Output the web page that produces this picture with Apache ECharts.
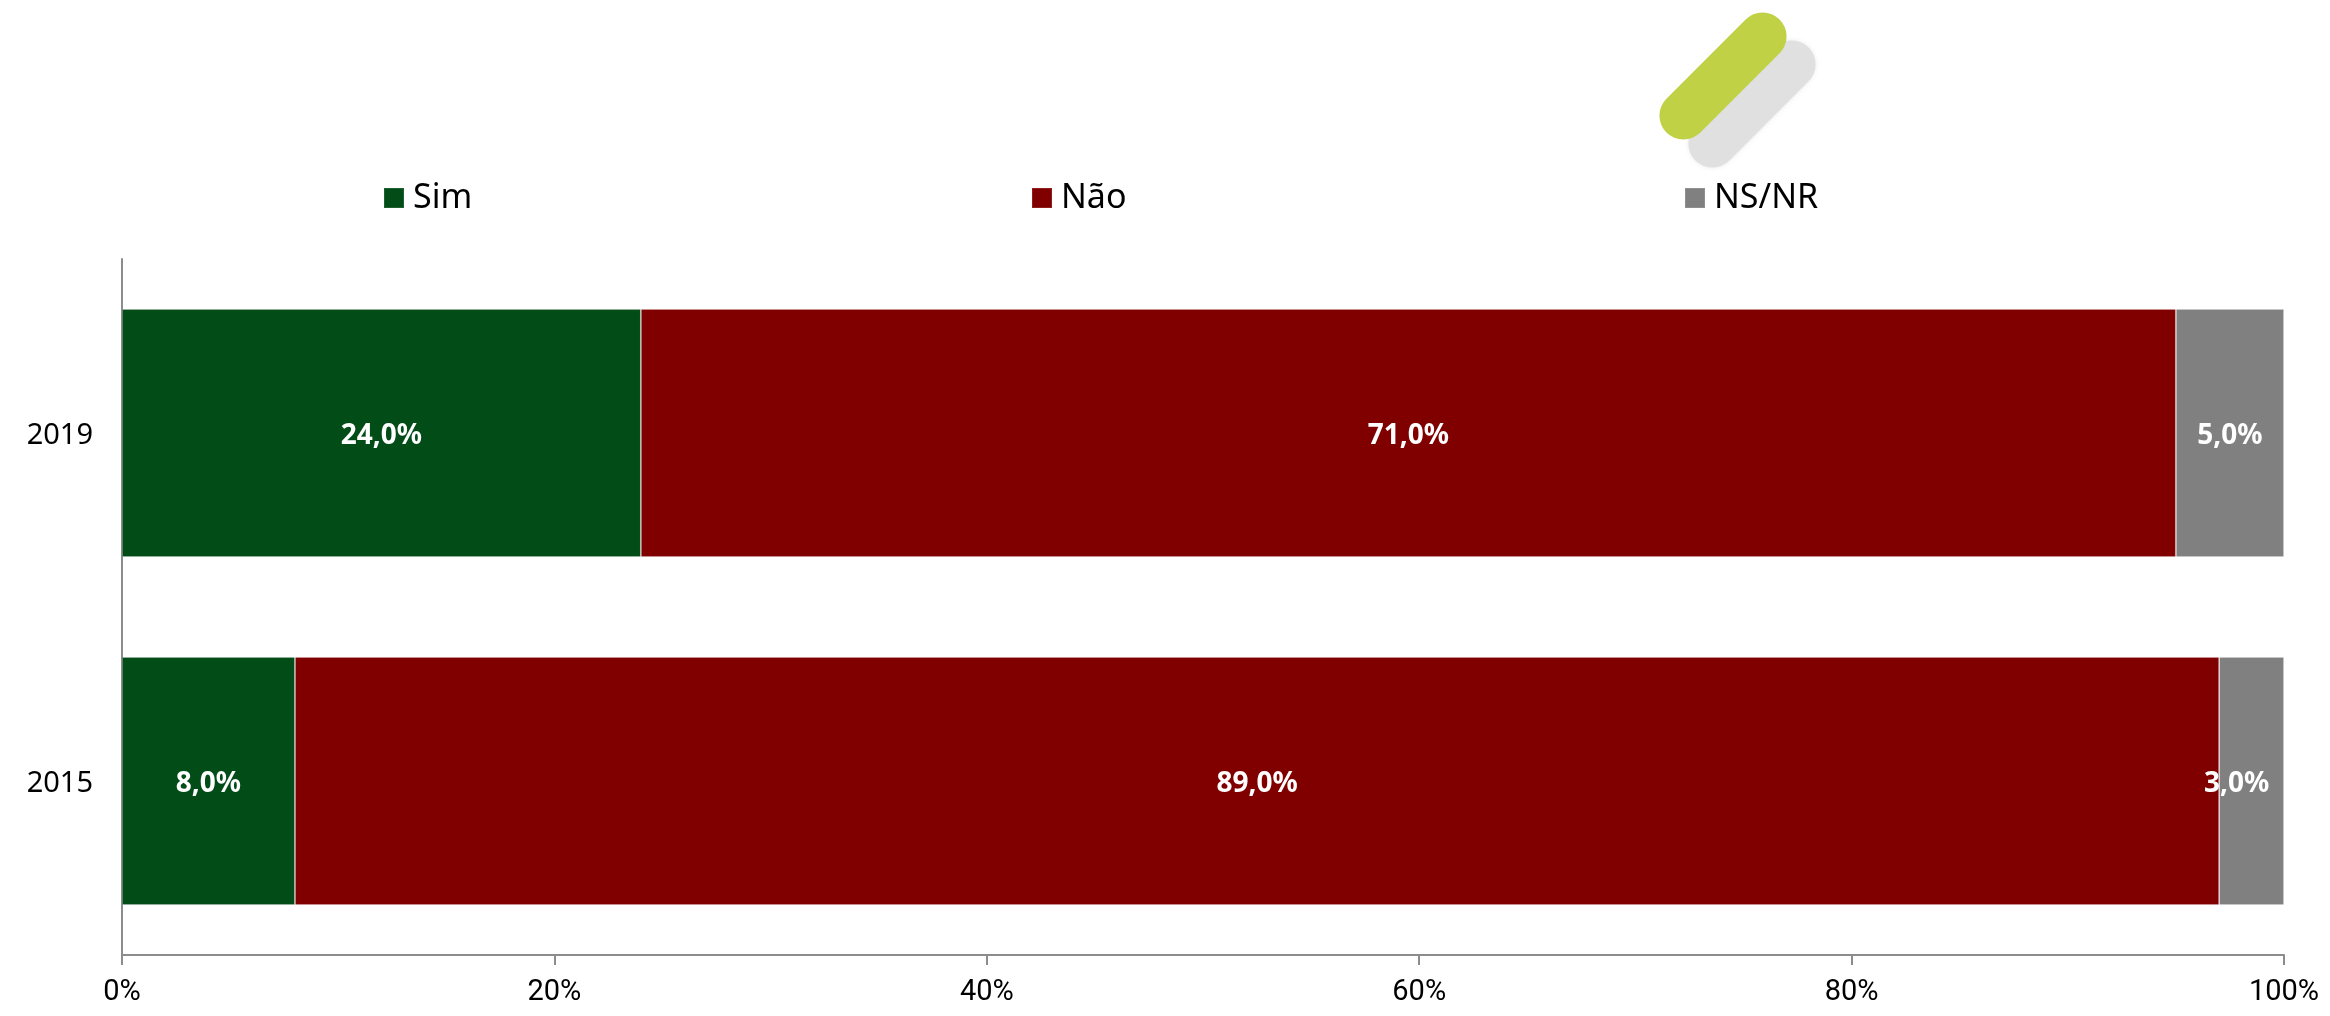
<!DOCTYPE html>
<html><head><meta charset="utf-8">
<style>html,body{margin:0;padding:0;background:#fff}#c{width:2330px;height:1016px}</style>
<script src="https://cdn.jsdelivr.net/npm/echarts@6/dist/echarts.min.js"></script>
</head><body><div id="c"></div>
<script>
const categories = ['2015', '2019'];
const sim = [8, 24];
const nao = [89, 71];
const nsnr = [3, 5];
const xTicks = [0, 20, 40, 60, 80, 100];
const colors = { sim: '#024c18', nao: '#800000', nsnr: '#808080' };
const FONT = '"Noto Sans"';
const fmt = v => v.toFixed(1).replace('.', ',') + '%';
const chart = echarts.init(document.getElementById('c'), null, { renderer: 'canvas' });
const lbl = { show: true, position: 'inside', offset: [0, 3], color: '#fff', fontFamily: FONT, fontWeight: 'bold', fontSize: 28, formatter: p => fmt(p.value) };
const edge = { borderColor: 'rgba(255,255,255,0.12)', borderWidth: 1 };
const leg = (name, left) => ({
  data: [name], left, top: 176, orient: 'horizontal', itemWidth: 20, itemHeight: 20,
  icon: 'rect', textStyle: { fontFamily: FONT, fontSize: 34, color: '#000', padding: [6, 0, 0, 4] }
});
chart.setOption({
  animation: false,
  backgroundColor: '#fff',
  graphic: [
    { type: 'rect', rotation: Math.PI / 4, x: 1752, y: 104, originX: 0, originY: 0,
      shape: { x: -80, y: -24, width: 160, height: 48, r: 24 },
      style: { fill: '#e0e0e0', shadowBlur: 4, shadowColor: 'rgba(224,224,224,0.7)' }, silent: true, z: 1 },
    { type: 'rect', rotation: Math.PI / 4, x: 1723, y: 76, originX: 0, originY: 0,
      shape: { x: -80, y: -24, width: 160, height: 48, r: 24 },
      style: { fill: '#c0d145' }, silent: true, z: 2 }
  ],
  legend: [leg('Sim', 378), leg('Não', 1026), leg('NS/NR', 1679)],
  grid: { left: 122, right: 46, top: 259, bottom: 61, containLabel: false },
  xAxis: {
    type: 'value', min: 0, max: 100, interval: 20,
    axisLine: { show: true, lineStyle: { color: '#8c8c8c', width: 2 } },
    axisTick: { show: true, length: 10, lineStyle: { color: '#8c8c8c', width: 2 } },
    splitLine: { show: false },
    axisLabel: { fontFamily: 'Roboto', fontSize: 29, color: '#000', margin: 23, formatter: v => xTicks.includes(v) ? v + '%' : '' }
  },
  yAxis: {
    type: 'category', data: categories,
    axisLine: { show: true, lineStyle: { color: '#8c8c8c', width: 2 } },
    axisTick: { show: false },
    axisLabel: { fontFamily: FONT, fontSize: 29, color: '#000', margin: 29, verticalAlign: 'top', lineHeight: 6 }
  },
  series: [
    { name: 'Sim', type: 'bar', stack: 't', barWidth: 248, data: sim, itemStyle: { color: colors.sim, ...edge }, label: lbl },
    { name: 'Não', type: 'bar', stack: 't', barWidth: 248, data: nao, itemStyle: { color: colors.nao, ...edge }, label: lbl },
    { name: 'NS/NR', type: 'bar', stack: 't', barWidth: 248,
      data: [{ value: nsnr[0], label: { offset: [-15, 3] } }, nsnr[1]],
      itemStyle: { color: colors.nsnr, ...edge }, label: lbl }
  ]
});
</script></body></html>
